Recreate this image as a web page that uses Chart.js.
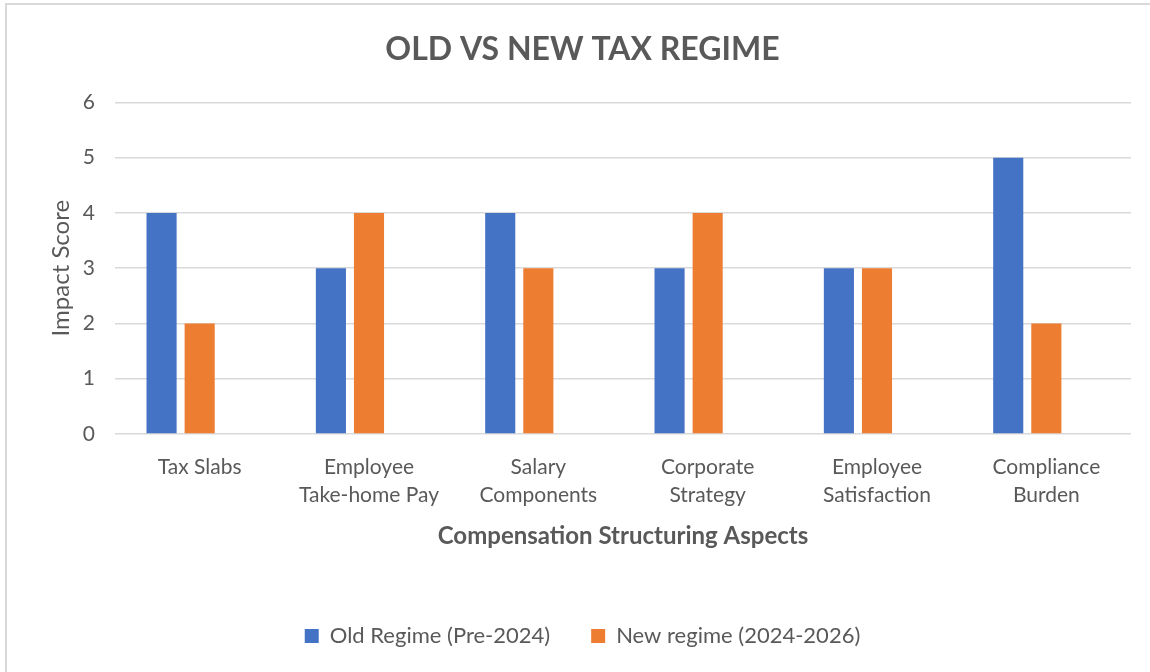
<!DOCTYPE html>
<html>
<head>
<meta charset="utf-8">
<script src="https://cdn.jsdelivr.net/npm/chart.js@4.4.1/dist/chart.umd.min.js"></script>
<style>
html,body{margin:0;padding:0;background:#fff;}
#wrap{position:absolute;left:0;top:0;width:1150px;height:672px;}
#frame{position:absolute;left:5px;top:3px;width:1160px;height:680px;border:2px solid #D9D9D9;box-sizing:border-box;}
canvas{position:absolute;left:0;top:0;}
</style>
</head>
<body>
<div id="wrap"><div id="frame"></div><canvas id="c" width="1150" height="672"></canvas></div>
<script>
const categories = [["Tax Slabs"], ["Employee", "Take-home Pay"], ["Salary", "Components"], ["Corporate", "Strategy"], ["Employee", "Satisfaction"], ["Compliance", "Burden"]];
const oldRegime = [4, 3, 4, 3, 3, 5];
const newRegime = [2, 4, 3, 4, 3, 2];
const emptySeries = [null, null, null, null, null, null];
const yTicks = [0, 1, 2, 3, 4, 5, 6];

const FONT = "Lato, 'Open Sans', sans-serif";
const TXT = '#595959';

new Chart(document.getElementById('c'), {
  type: 'bar',
  data: {
    labels: categories,
    datasets: [
      {label: 'Old Regime (Pre-2024)', data: oldRegime, backgroundColor: '#4472C4', borderWidth: 0},
      {label: 'New regime (2024-2026)', data: newRegime, backgroundColor: '#ED7D31', borderWidth: 0},
      {label: '', data: emptySeries, backgroundColor: 'rgba(0,0,0,0)'}
    ]
  },
  options: {
    responsive: false,
    animation: false,
    devicePixelRatio: 1,
    categoryPercentage: 0.675,
    barPercentage: 0.79,
    layout: {padding: {left: 34, right: 19, top: 30, bottom: 15}},
    plugins: {
      title: {display: true, text: 'OLD VS NEW TAX REGIME', color: TXT, font: {family: FONT, size: 32, weight: 'bold'}, padding: {top: 0, bottom: 34}},
      legend: {
        position: 'bottom',
        labels: {
          color: TXT, font: {family: FONT, size: 22}, boxWidth: 14, boxHeight: 14, padding: 41,
          filter: (item) => item.text !== ''
        }
      },
      tooltip: {enabled: false}
    },
    scales: {
      x: {
        grid: {display: false},
        border: {display: false},
        ticks: {color: TXT, font: {family: FONT, size: 21, lineHeight: 1.33}, maxRotation: 0, autoSkip: false, padding: 11},
        title: {display: true, text: 'Compensation Structuring Aspects', color: TXT, font: {family: FONT, size: 24, weight: 'bold'}, padding: {top: 33, bottom: 33}},
        afterFit: (s) => { s.height = 150; }
      },
      y: {
        min: 0, max: 6,
        afterBuildTicks: (s) => { s.ticks = yTicks.map(v => ({value: v})); },
        grid: {color: '#D9D9D9', lineWidth: 1.5, drawTicks: false},
        border: {display: false},
        ticks: {color: TXT, font: {family: FONT, size: 21}, padding: 20},
        title: {display: true, text: 'Impact Score', color: TXT, font: {family: FONT, size: 24}, padding: {top: 13, bottom: 13}},
        afterFit: (s) => { s.width = 81; }
      }
    }
  }
});
</script>
</body>
</html>
